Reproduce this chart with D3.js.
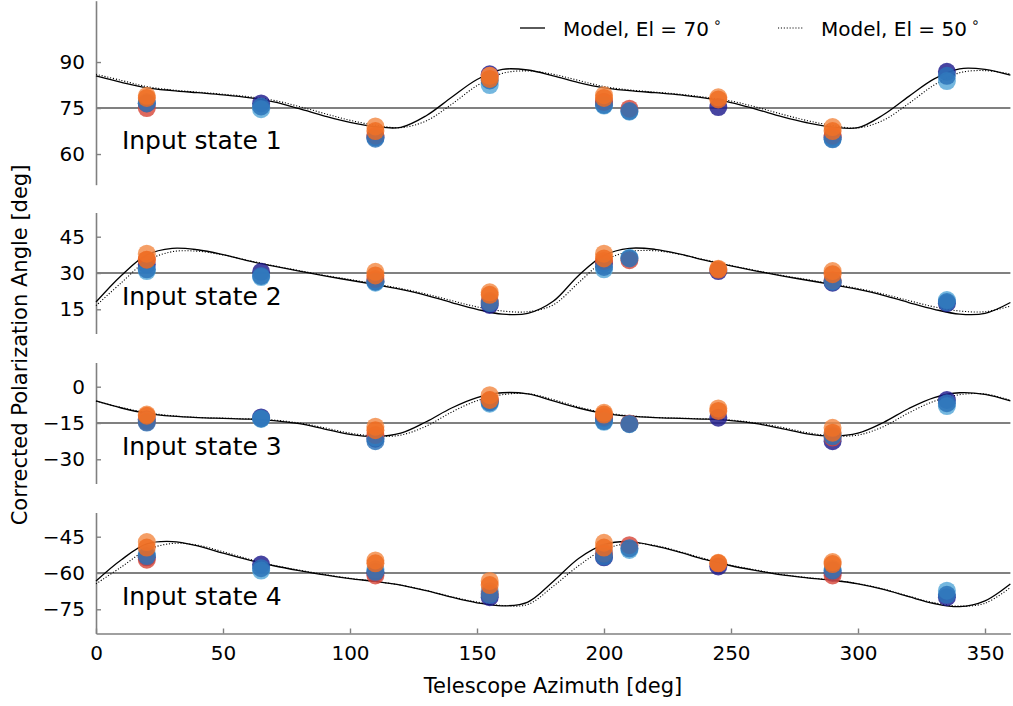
<!DOCTYPE html>
<html>
<head>
<meta charset="utf-8">
<script src="https://cdn.jsdelivr.net/npm/d3@7"></script>
<style>
  html, body { margin: 0; padding: 0; background: #fff; }
  svg { display: block; font-family: "DejaVu Sans", sans-serif; }
</style>
</head>
<body>
<svg id="chart" width="1013" height="706"></svg>
<script>
// ---------------- data ----------------
const azimuths = [20, 65, 110, 155, 200, 210, 245, 290, 335];
const stateLabels = ["Input state 1", "Input state 2", "Input state 3", "Input state 4"];
const stateCenters = [75, 30, -15, -60];
const stateTicks = [[60, 75, 90], [15, 30, 45], [-30, -15, 0], [-75, -60, -45]];
const xTicks = [0, 50, 100, 150, 200, 250, 300, 350];
const legendLabels = ["Model, El = 70", "Model, El = 50"];

// measured angles, one array per measurement set (null = not measured)
const navy1 = [76.5, 76.5, 65.5, 86.0, 77.0, null, 75.3, 65.5, 86.8];
const lblue1 = [77.0, 74.6, 65.5, 82.5, 75.8, 73.8, null, 65.0, 83.8];
const red1 = [75.0, null, 66.0, 85.5, 77.0, 74.8, null, 66.0, null];
const blue1 = [76.5, 75.5, 65.0, 84.0, 76.0, 74.0, null, 64.8, 85.5];
const lorange1 = [79.0, null, 69.0, 85.5, 79.2, null, 78.5, 68.8, null];
const orange1 = [78.3, null, 67.5, 84.5, 78.3, null, 77.8, 67.5, null];

const navy2 = [33.5, 30.5, 26.5, 16.8, 34.0, null, 30.8, 26.0, 17.5];
const lblue2 = [30.8, 28.3, 26.0, 18.5, 31.5, 36.3, null, 26.8, 18.8];
const red2 = [35.5, null, 27.5, 18.0, 35.0, 35.3, null, 27.0, null];
const blue2 = [31.5, 28.8, 26.4, 17.5, 32.5, 36.0, null, 26.4, 18.0];
const lorange2 = [38.0, null, 30.5, 22.0, 38.0, null, 31.8, 30.8, null];
const orange2 = [35.5, null, 29.0, 21.0, 36.0, null, 31.4, 29.5, null];

const navy3 = [-13.5, -12.7, -21.5, -6.0, -13.0, null, -12.8, -22.5, -5.5];
const lblue3 = [-14.0, -13.3, -21.0, -7.0, -14.5, -15.5, null, -20.0, -8.0];
const red3 = [-14.5, null, -20.0, -5.5, -12.5, -15.2, null, -21.0, null];
const blue3 = [-14.8, -13.1, -22.5, -6.5, -14.2, -15.4, null, -20.5, -6.8];
const lorange3 = [-11.5, null, -16.5, -3.5, -10.8, null, -9.0, -17.0, null];
const orange3 = [-12.0, null, -18.0, -5.5, -11.5, null, -10.0, -19.0, null];

const navy4 = [-53.5, -56.5, -60.0, -70.0, -53.5, null, -57.3, -60.0, -70.0];
const lblue4 = [-52.0, -59.0, -58.5, -67.5, -51.5, -50.5, null, -58.3, -67.3];
const red4 = [-54.5, null, -61.0, -68.5, -52.0, -48.5, null, -61.0, null];
const blue4 = [-53.0, -58.0, -59.5, -69.0, -53.2, -49.8, null, -59.0, -69.0];
const lorange4 = [-47.2, null, -54.8, -63.3, -47.5, null, -55.8, -55.5, null];
const orange4 = [-49.5, null, -56.0, -65.0, -49.5, null, -56.0, -56.3, null];

// model curves, sampled every 10 deg of azimuth
const modelAz = [0,10,20,30,40,50,60,70,80,90,100,110,120,130,140,150,160,170,180,
                 190,200,210,220,230,240,250,260,270,280,290,300,310,320,330,340,350,360];
const model70_1 = [85.5,83.4,81.6,80.7,80.0,79.3,78.4,77.0,74.8,72.4,70.3,68.9,68.7,72.5,78.5,84.3,87.6,87.4,85.5,
                   83.3,81.6,80.7,80.0,79.3,78.2,76.8,74.6,72.2,70.2,68.8,68.6,72.8,78.8,84.5,87.8,87.6,85.7];
const model50_1 = [86.0,84.0,82.0,80.9,80.2,79.5,78.7,77.5,75.5,73.2,71.0,69.4,68.6,70.8,76.2,82.3,86.3,87.1,86.0,
                   84.0,82.0,80.9,80.2,79.5,78.5,77.3,75.3,73.0,70.9,69.3,68.5,71.0,76.5,82.5,86.5,87.2,86.1];
const model70_2 = [18.0,29.0,37.5,40.2,39.6,37.6,35.0,32.8,30.8,28.8,27.0,25.2,23.2,20.8,17.8,15.0,13.0,13.3,18.3,
                   29.0,37.3,40.2,39.8,37.8,35.2,32.9,30.8,28.8,27.0,25.2,23.2,20.8,17.8,15.0,13.0,13.3,17.8];
const model50_2 = [16.5,26.0,35.0,38.8,39.0,37.5,35.2,33.0,31.0,29.0,27.3,25.5,23.6,21.3,18.6,16.0,14.3,14.0,16.8,
                   26.0,35.0,38.8,39.2,37.7,35.4,33.1,31.0,29.0,27.3,25.5,23.6,21.3,18.6,16.0,14.3,14.0,16.3];
const model70_3 = [-5.9,-8.8,-11.0,-12.2,-12.8,-13.1,-13.4,-14.0,-15.3,-17.5,-19.7,-20.6,-19.2,-14.5,-8.8,-4.5,-2.5,-3.0,-5.9,
                   -8.8,-11.0,-12.2,-12.8,-13.1,-13.4,-14.0,-15.3,-17.3,-19.5,-20.4,-19.2,-14.8,-9.0,-4.5,-2.5,-3.2,-5.9];
const model50_3 = [-6.0,-8.6,-10.7,-12.0,-12.7,-13.0,-13.3,-13.8,-15.0,-17.0,-19.2,-20.4,-20.0,-16.3,-10.5,-5.8,-3.3,-2.9,-5.3,
                   -8.4,-10.7,-12.0,-12.7,-13.0,-13.3,-13.8,-15.0,-16.8,-19.0,-20.3,-20.0,-16.5,-10.8,-6.0,-3.3,-3.0,-5.6];
const model70_4 = [-63.3,-54.5,-48.0,-47.0,-48.8,-51.8,-54.6,-57.0,-59.0,-60.8,-62.3,-63.5,-65.0,-67.3,-70.0,-72.3,-73.6,-72.0,-63.5,
                   -54.0,-48.3,-47.0,-48.8,-51.5,-54.5,-57.0,-59.0,-60.8,-62.0,-63.0,-64.5,-66.8,-69.8,-72.6,-73.9,-71.5,-64.5];
const model50_4 = [-64.5,-57.5,-50.5,-47.8,-48.5,-51.2,-54.2,-56.8,-58.8,-60.6,-62.2,-63.5,-65.0,-67.2,-69.8,-72.0,-73.4,-73.0,-65.5,
                   -57.0,-50.3,-47.8,-48.6,-51.2,-54.2,-56.8,-58.8,-60.6,-61.9,-62.9,-64.4,-66.6,-69.6,-72.3,-73.7,-72.5,-66.0];

// ---------------- layout / style ----------------
const seriesColors = ["#1f1b8c", "#55a7d8", "#d8483a", "#2a72b8", "#f38a45", "#ef6b20"];
const measured = [
  [navy1, lblue1, red1, blue1, lorange1, orange1],
  [navy2, lblue2, red2, blue2, lorange2, orange2],
  [navy3, lblue3, red3, blue3, lorange3, orange3],
  [navy4, lblue4, red4, blue4, lorange4, orange4]
];
const models70 = [model70_1, model70_2, model70_3, model70_4];
const models50 = [model50_1, model50_2, model50_3, model50_4];
const panelDomains = [[50, 110], [5, 55], [-40, 10], [-85, -35]];
const panelRanges = [[184.7, 0.7], [333.5, 212.5], [483.5, 362.5], [633.5, 512.5]];

const svg = d3.select("#chart");
const gray = "#808080";
const x = d3.scaleLinear().domain([0, 360]).range([96, 1010.4]);

stateLabels.forEach((label, i) => {
  const y = d3.scaleLinear().domain(panelDomains[i]).range(panelRanges[i]);
  const g = svg.append("g");

  // y axis
  const yAxis = d3.axisLeft(y).tickValues(stateTicks[i]).tickSizeInner(-5).tickSizeOuter(0).tickPadding(11);
  const ya = g.append("g").attr("transform", `translate(${x(0)},0)`).call(yAxis);
  ya.select(".domain").attr("stroke", gray).attr("stroke-width", 1.6);
  ya.selectAll(".tick line").attr("stroke", gray).attr("stroke-width", 1.4);
  ya.selectAll(".tick text").attr("font-size", 20).attr("fill", "#000")
    .attr("font-family", "DejaVu Sans");

  // center reference line
  g.append("line")
    .attr("x1", x(0)).attr("x2", x(360))
    .attr("y1", y(stateCenters[i])).attr("y2", y(stateCenters[i]))
    .attr("stroke", gray).attr("stroke-width", 2);

  // model curves
  const line = d3.line().x((d, k) => x(modelAz[k])).y(d => y(d)).curve(d3.curveCatmullRom);
  g.append("path").attr("d", line(models70[i])).attr("fill", "none")
    .attr("stroke", "#000").attr("stroke-width", 1.3);
  g.append("path").attr("d", line(models50[i])).attr("fill", "none")
    .attr("stroke", "#000").attr("stroke-width", 1.1).attr("stroke-dasharray", "1.1,1.8");

  // points
  measured[i].forEach((vals, s) => {
    g.selectAll(null).data(vals.map((v, k) => [azimuths[k], v]).filter(d => d[1] !== null))
      .enter().append("circle")
      .attr("cx", d => x(d[0])).attr("cy", d => y(d[1])).attr("r", 9)
      .attr("fill", seriesColors[s]).attr("fill-opacity", 0.82);
  });

  // panel label
  g.append("text").attr("x", x(10.2)).attr("y", y(stateCenters[i] - 13.2))
    .attr("font-size", 25).attr("fill", "#000").text(label);

  if (i === 3) {
    const xAxis = d3.axisBottom(x).tickValues(xTicks).tickSizeInner(-5).tickSizeOuter(0).tickPadding(12);
    const xa = g.append("g").attr("transform", `translate(0,${panelRanges[3][0]})`).call(xAxis);
    xa.select(".domain").attr("stroke", gray).attr("stroke-width", 1.6);
    xa.selectAll(".tick line").attr("stroke", gray).attr("stroke-width", 1.4);
    xa.selectAll(".tick text").attr("font-size", 20).attr("fill", "#000")
      .attr("font-family", "DejaVu Sans");
  }
});

// axis titles
svg.append("text").attr("x", 553).attr("y", 693).attr("text-anchor", "middle")
  .attr("font-size", 21).text("Telescope Azimuth [deg]");
svg.append("text").attr("transform", "translate(27,345) rotate(-90)").attr("text-anchor", "middle")
  .attr("font-size", 21).text("Corrected Polarization Angle [deg]");

// legend
const legendX = [520, 778];
legendLabels.forEach((lab, k) => {
  const lg = svg.append("g");
  lg.append("line").attr("x1", legendX[k]).attr("x2", legendX[k] + 25).attr("y1", 28).attr("y2", 28)
    .attr("stroke", "#000").attr("stroke-width", k === 0 ? 1.3 : 1.1)
    .attr("stroke-dasharray", k === 0 ? null : "1.1,1.8");
  const t = lg.append("text").attr("x", legendX[k] + 43).attr("y", 35.5).attr("font-size", 20);
  t.append("tspan").text(lab + "\u2009");
  t.append("tspan").attr("font-size", 14).attr("dy", -9).text("\u2218");
});
</script>
</body>
</html>
